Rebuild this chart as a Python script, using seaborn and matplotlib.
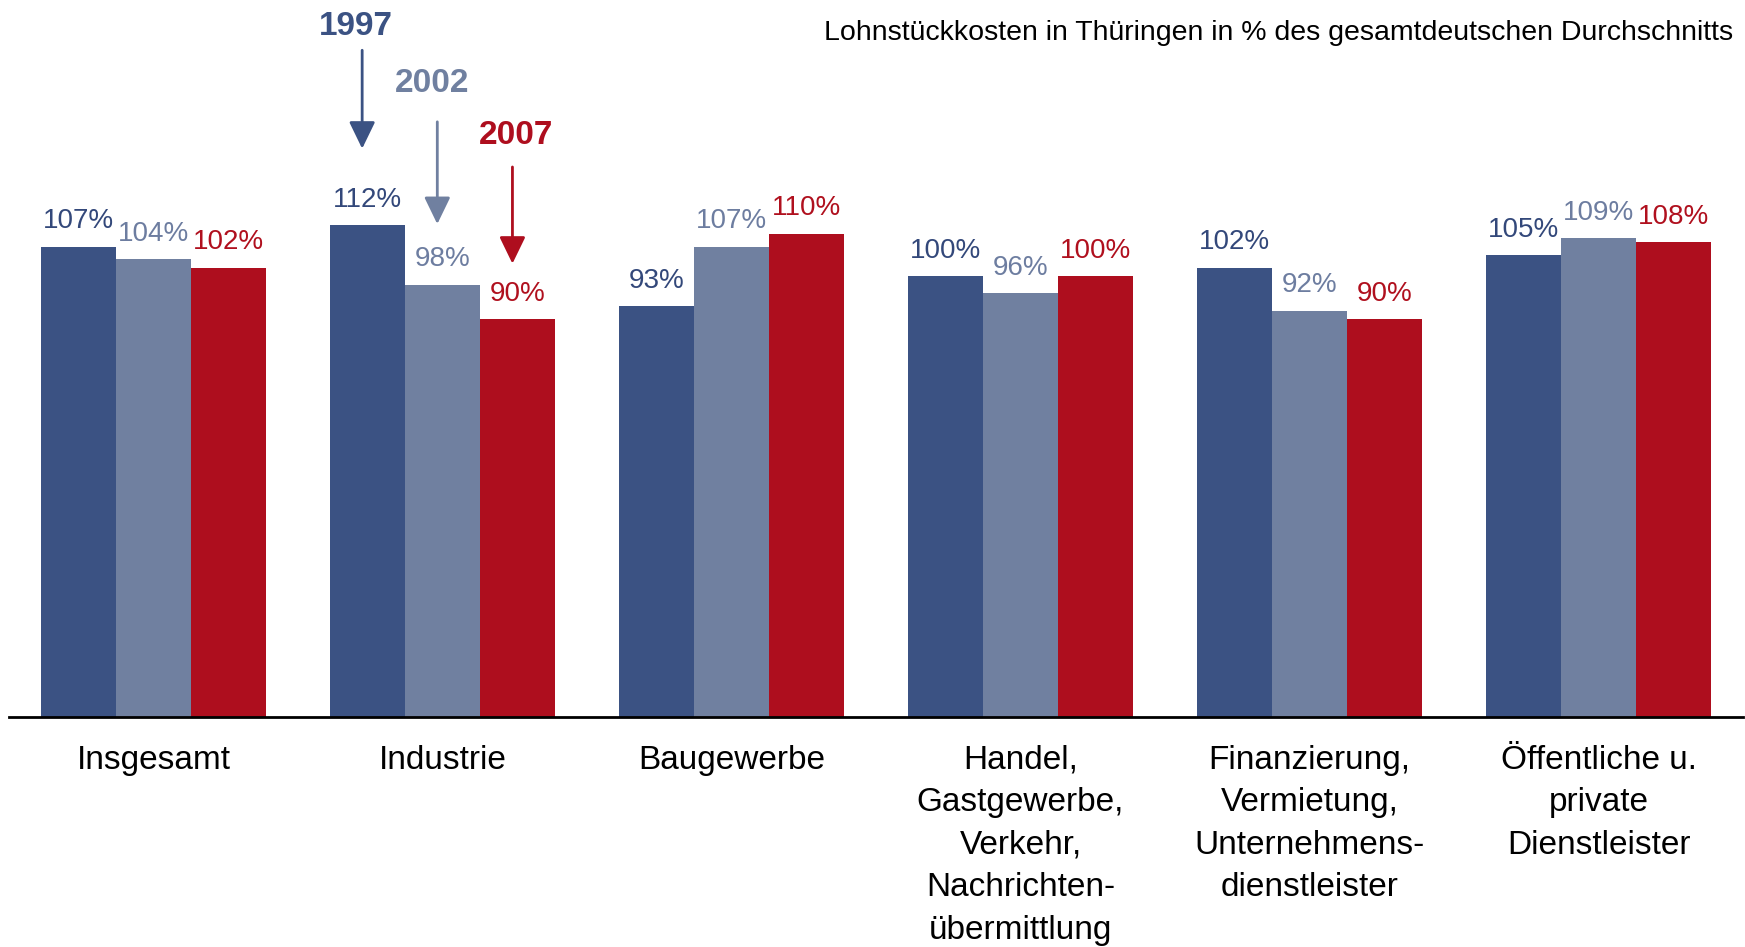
import numpy as np
import pandas as pd
import seaborn as sns
import matplotlib.pyplot as plt

# Daten: Lohnstueckkosten Thueringen in % des gesamtdeutschen Durchschnitts
bereiche = ["Insgesamt", "Industrie", "Baugewerbe",
            "Handel,\nGastgewerbe,\nVerkehr,\nNachrichten-\nübermittlung",
            "Finanzierung,\nVermietung,\nUnternehmens-\ndienstleister",
            "Öffentliche u.\nprivate\nDienstleister"]
jahre = ["1997", "2002", "2007"]
werte_1997 = [107, 112, 93, 100, 102, 105]
werte_2002 = [104, 98, 107, 96, 92, 109]
werte_2007 = [102, 90, 110, 100, 90, 108]

farben = ["#3B5283", "#7080A0", "#AE0E1E"]
label_farben = ["#33487A", "#6D7DA0", "#B0101E"]

df = pd.DataFrame({
    "Bereich": bereiche * 3,
    "Jahr": np.repeat(jahre, len(bereiche)),
    "Wert": werte_1997 + werte_2002 + werte_2007,
})

sns.set_style("white")
plt.rcParams['font.family'] = ['Liberation Sans', 'DejaVu Sans']

fig = plt.figure(figsize=(17.45, 9.47), dpi=100)
ax = fig.add_axes([9 / 1745, 1 - 717 / 947, 1734 / 1745, 717 / 947])

sns.barplot(data=df, x="Bereich", y="Wert", hue="Jahr", palette=farben,
            width=0.78, saturation=1, linewidth=0, legend=False, ax=ax)

# Achse beginnt leicht unter Null, Balken reichen bis zur Achsenlinie
y_min, y_max = -3.43, 164.9
ax.set_ylim(y_min, y_max)
ax.set_xlim(-0.5, 5.5)
for cont in ax.containers:
    for p in cont.patches:
        top = p.get_y() + p.get_height()
        p.set_y(y_min)
        p.set_height(top - y_min)

for cont, col in zip(ax.containers, label_farben):
    ax.bar_label(cont, labels=[f"{int(v)}%" for v in cont.datavalues],
                 padding=9, fontsize=20, color=col)

for s in ["top", "left", "right"]:
    ax.spines[s].set_visible(False)
ax.spines["bottom"].set_color("black")
ax.spines["bottom"].set_linewidth(2)
ax.set_yticks([])
ax.set_xlabel("")
ax.set_ylabel("")
ax.tick_params(axis="x", length=0, pad=20, labelsize=24, labelcolor="black")
for lab in ax.get_xticklabels():
    lab.set_linespacing(1.48)

# Jahres-Pfeile auf die Industrie-Balken
pfeile = [
    ("1997", 0.700, 158.6, 153.1, 130.0),
    ("2002", 0.964, 145.3, 136.3, 112.3),
    ("2007", 1.254, 133.2, 125.7, 103.0),
]
for (jahr, tx, ty, y0, y1), cont, col in zip(pfeile, ax.containers, farben):
    bar = cont.patches[1]
    bx = bar.get_x() + bar.get_width() / 2 - 0.018
    ax.text(tx, ty, jahr, ha="center", va="center", fontsize=24,
            fontweight="bold", color=col, clip_on=False)
    ax.annotate("", xy=(bx, y1), xytext=(bx, y0),
                arrowprops=dict(arrowstyle="-|>,head_length=1.65,head_width=0.8",
                                color=col, lw=2, shrinkA=0, shrinkB=0),
                annotation_clip=False)

fig.text(1733 / 1745, 1 - 33 / 947,
         "Lohnstückkosten in Thüringen in % des gesamtdeutschen Durchschnitts",
         ha="right", va="center", fontsize=20.5, color="black")

fig.savefig("out.png", dpi=100)
